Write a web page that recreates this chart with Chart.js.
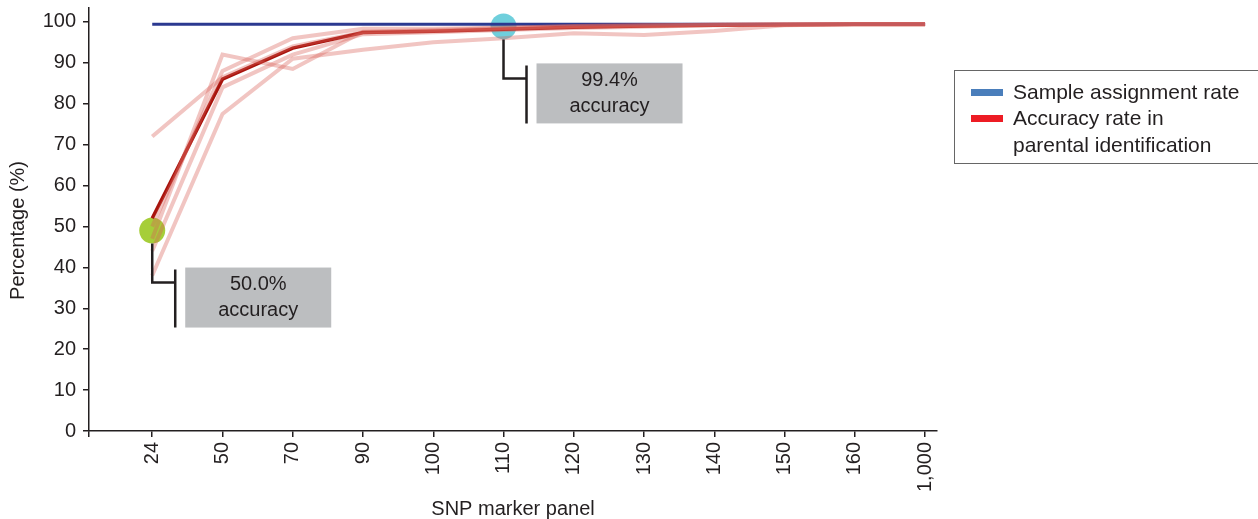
<!DOCTYPE html>
<html>
<head>
<meta charset="utf-8">
<script src="https://cdn.jsdelivr.net/npm/chart.js@4.4.1/dist/chart.umd.min.js"></script>
<style>
  body { margin: 0; background: #fff; }
  #wrap { position: relative; width: 1258px; height: 519px; overflow: hidden; }
  #legend { position: absolute; left: 954px; top: 70px; width: 320px; height: 94px; border: 1px solid #666; box-sizing: border-box;
    font-family: 'Liberation Sans', Arial, sans-serif; font-size: 21px; color: #231f20; }
  #legend .sw { position: absolute; left: 16px; width: 32px; height: 7px; }
  #legend .tx { position: absolute; left: 58px; line-height: 24px; white-space: nowrap; }
</style>
</head>
<body>
<div id="wrap">
  <canvas id="snpChart" width="1258" height="519"></canvas>
  <div id="legend">
    <div class="sw" style="top:18px;background:#4a7ebb"></div>
    <div class="tx" style="top:9px">Sample assignment rate</div>
    <div class="sw" style="top:44px;background:#ed1c24"></div>
    <div class="tx" style="top:35px">Accuracy rate in<br><span style="display:inline-block;margin-top:3px">parental identification</span></div>
  </div>
</div>
<script>
// categories on the x axis
const panels = ['24', '50', '70', '90', '100', '110', '120', '130', '140', '150', '160', '1,000']

// sample assignment rate
const assignmentRate = [99.4, 99.4, 99.4, 99.4, 99.4, 99.4, 99.4, 99.4, 99.4, 99.4, 99.4, 99.4]

// mean accuracy rate in parental identification
const accuracyMean = [52, 86, 93.6, 97.4, 97.7, 98.2, 98.7, 99, 99.2, 99.3, 99.4, 99.4]

// individual replicate runs (pale lines)
const run1 = [72, 86.5, 94, 97.5, 97.8, 98.3, 98.8, 99.1, 99.3, 99.4, 99.4, 99.4]
const run2 = [47, 92, 88.5, 97.6, 98, 98.5, 99, 99.2, 99.3, 99.4, 99.4, 99.4]
const run3 = [38, 77.5, 91, 93.2, 95, 96, 97.2, 96.8, 97.8, 99.2, 99.4, 99.4]
const run4 = [50, 88, 96, 98.3, 98.3, 98.6, 99, 99.2, 99.3, 99.4, 99.4, 99.4]
const run5 = [44, 84, 92, 97, 97.5, 98, 98.5, 98.8, 99.2, 99.3, 99.4, 99.4]

// highlighted points with their callouts
const callouts = [
    { panel: '24', value: 49, color: '#a6ce39', lines: ['50.0%', 'accuracy'] },
    { panel: '110', value: 98.9, color: '#6fcfdc', lines: ['99.4%', 'accuracy'] }
]

const yTicks = [0, 10, 20, 30, 40, 50, 60, 70, 80, 90, 100]

const ink = '#231f20'
Chart.defaults.font.family = "'Liberation Sans', Arial, sans-serif"
Chart.defaults.font.size = 20
Chart.defaults.color = ink

function toPoints(values) {
    return values.map((v, i) => ({ x: i + 1, y: v }))
}

const paleRuns = [run1, run2, run3, run4, run5].map(run => ({
    data: toPoints(run),
    borderColor: 'rgba(215, 95, 85, 0.36)',
    borderWidth: 4,
    pointRadius: 0,
    tension: 0
}))

const datasets = paleRuns.concat([
    {
        label: 'Sample assignment rate',
        data: toPoints(assignmentRate),
        borderColor: '#2b3990',
        borderWidth: 3,
        pointRadius: 0
    },
    {
        label: 'Accuracy rate in parental identification',
        data: toPoints(accuracyMean),
        borderColor: '#a8140d',
        borderWidth: 3.5,
        pointRadius: 0
    },
    {
        data: callouts.map(c => ({ x: panels.indexOf(c.panel) + 1, y: c.value })),
        showLine: false,
        pointRadius: 13,
        pointHoverRadius: 13,
        pointBorderWidth: 0,
        pointBackgroundColor: callouts.map(c => c.color)
    }
])

// callout brackets + grey boxes, and the y axis title
const calloutPlugin = {
    id: 'callouts',
    afterDatasetsDraw(chart) {
        const ctx = chart.ctx
        const xs = chart.scales.x
        const ys = chart.scales.y
        ctx.save()
        callouts.forEach(c => {
            const px = xs.getPixelForValue(panels.indexOf(c.panel) + 1)
            const py = ys.getPixelForValue(c.value)
            ctx.strokeStyle = ink
            ctx.lineWidth = 2.5
            ctx.beginPath()
            ctx.moveTo(px, py + 13)
            ctx.lineTo(px, py + 52)
            ctx.lineTo(px + 23, py + 52)
            ctx.moveTo(px + 23, py + 39)
            ctx.lineTo(px + 23, py + 97)
            ctx.stroke()
            ctx.fillStyle = '#bcbec0'
            ctx.fillRect(px + 33, py + 37, 146, 60)
            ctx.fillStyle = ink
            ctx.textAlign = 'center'
            ctx.textBaseline = 'middle'
            ctx.font = "20px 'Liberation Sans', Arial, sans-serif"
            ctx.fillText(c.lines[0], px + 106, py + 54)
            ctx.fillText(c.lines[1], px + 106, py + 80)
        })
        // y title
        ctx.translate(18, (ys.getPixelForValue(0) + ys.getPixelForValue(100)) / 2 + 4)
        ctx.rotate(-Math.PI / 2)
        ctx.fillText('Percentage (%)', 0, 0)
        ctx.restore()
    }
}

function noOverhang(scale) {
    scale.paddingTop = 0
    scale.paddingBottom = 0
    scale.paddingLeft = 0
    scale.paddingRight = 0
}

const config = {
    type: 'line',
    data: { datasets },
    options: {
        responsive: false,
        animation: false,
        events: [],
        layout: { autoPadding: false, padding: { top: 8, right: 321, left: 0, bottom: 0 } },
        plugins: { legend: { display: false }, tooltip: { enabled: false } },
        scales: {
            x: {
                type: 'linear',
                min: 0.1,
                max: 12.17,
                afterBuildTicks: scale => {
                    scale.ticks = [{ value: 0.1 }].concat(panels.map((p, i) => ({ value: i + 1 })))
                },
                afterFit: scale => { scale.height = 88; noOverhang(scale) },
                ticks: {
                    autoSkip: false,
                    minRotation: 90,
                    maxRotation: 90,
                    padding: 5,
                    color: ink,
                    callback: value => Number.isInteger(value) && panels[value - 1] ? panels[value - 1] : ''
                },
                grid: { drawOnChartArea: false, drawTicks: true, tickLength: 6, color: ink, lineWidth: 1.5 },
                border: { color: ink, width: 1.5 },
                title: { display: true, text: 'SNP marker panel', padding: { top: 0, bottom: 0 }, font: { size: 20, lineHeight: 1 }, color: ink }
            },
            y: {
                min: 0,
                max: 103.4,
                afterBuildTicks: scale => {
                    scale.ticks = yTicks.map(v => ({ value: v }))
                },
                afterFit: scale => { scale.width = 89; noOverhang(scale) },
                ticks: { padding: 7, color: ink },
                grid: { drawOnChartArea: false, drawTicks: true, tickLength: 6, color: ink, lineWidth: 1.5 },
                border: { color: ink, width: 1.5 }
            }
        }
    },
    plugins: [calloutPlugin]
}

const snpChart = new Chart(document.getElementById('snpChart'), config)
</script>
</body>
</html>
